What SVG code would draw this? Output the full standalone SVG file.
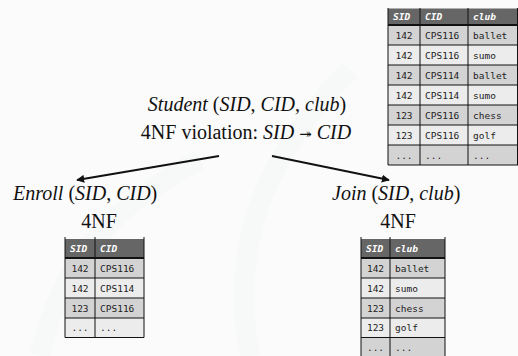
<svg xmlns="http://www.w3.org/2000/svg" width="518" height="356" viewBox="0 0 518 356">
<style>
.t{font-size:20px;fill:#111}
.i{font-style:italic}
.hd{fill:#666}
.odd{fill:#d3d3d3}
.even{fill:#ececec}
.g{stroke:#111;stroke-width:1;fill:none}
.thick{stroke:#111;stroke-width:2.2}
.c{font-size:9.5px;fill:#222}
.h{font-size:9.5px;fill:#fff;font-weight:bold;font-style:italic}
.edge{stroke:#111;stroke-width:2;fill:none}
</style>
<defs>
<marker id="ah" viewBox="0 0 10 10" refX="9" refY="5" markerWidth="4" markerHeight="4" orient="auto" markerUnits="strokeWidth">
<path d="M0,0 L10,5 L0,10 z" fill="#111"/>
</marker>
</defs>
<rect width="518" height="356" fill="#fbfbfb"/>
<g id="watermark" fill="none" stroke="#f7f8f8" stroke-width="20">
<path d="M250,356 C230,250 260,160 350,70"/>
<path d="M40,356 C60,260 120,200 200,160"/>
</g>
<g id="connectors">
<line class="edge" x1="219" y1="156" x2="77" y2="180" marker-end="url(#ah)"/>
<line class="edge" x1="272" y1="156" x2="389" y2="180" marker-end="url(#ah)"/>
</g>
<g id="student" font-family="Liberation Serif, Times New Roman, serif">
<text class="t" x="247" y="111" text-anchor="middle" font-size="20.4"><tspan class="i">Student</tspan> (<tspan class="i">SID</tspan>, <tspan class="i">CID</tspan>, <tspan class="i">club</tspan>)</text>
<text class="t" x="246" y="139" text-anchor="middle" font-size="19.5">4NF violation: <tspan class="i">SID</tspan> <tspan font-family="DejaVu Serif, DejaVu Sans, serif" font-size="15">↠</tspan> <tspan class="i">CID</tspan></text>
</g>
<g id="student-table" font-family="DejaVu Sans Mono, Liberation Mono, monospace">
<rect class="hd" x="388" y="8.5" width="130" height="16.5"/>
<rect class="odd" x="388" y="25" width="130" height="20"/>
<rect class="even" x="388" y="45" width="130" height="20"/>
<rect class="odd" x="388" y="65" width="130" height="20"/>
<rect class="even" x="388" y="85" width="130" height="20"/>
<rect class="odd" x="388" y="105" width="130" height="20"/>
<rect class="even" x="388" y="125" width="130" height="20"/>
<rect class="odd" x="388" y="145" width="130" height="20"/>
<path class="g" d="M388,8 V165 M420,8 V165 M468,8 V165 M517.5,8 V165 M388,45 H518 M388,65 H518 M388,85 H518 M388,105 H518 M388,125 H518 M388,145 H518 M388,165 H518"/>
<line class="thick" x1="388" y1="25" x2="518" y2="25"/>
<g class="h"><text x="393" y="20">SID</text><text x="425" y="20">CID</text><text x="473" y="20">club</text></g>
<g class="c">
<text x="404" y="39" text-anchor="middle">142</text><text x="425" y="39">CPS116</text><text x="473" y="39">ballet</text>
<text x="404" y="59" text-anchor="middle">142</text><text x="425" y="59">CPS116</text><text x="473" y="59">sumo</text>
<text x="404" y="79" text-anchor="middle">142</text><text x="425" y="79">CPS114</text><text x="473" y="79">ballet</text>
<text x="404" y="99" text-anchor="middle">142</text><text x="425" y="99">CPS114</text><text x="473" y="99">sumo</text>
<text x="404" y="119" text-anchor="middle">123</text><text x="425" y="119">CPS116</text><text x="473" y="119">chess</text>
<text x="404" y="139" text-anchor="middle">123</text><text x="425" y="139">CPS116</text><text x="473" y="139">golf</text>
<text x="404" y="159" text-anchor="middle">...</text><text x="425" y="159">...</text><text x="473" y="159">...</text>
</g>
</g>
<g id="enroll">
<g font-family="Liberation Serif, Times New Roman, serif">
<text class="t" x="13" y="200" font-size="20.5"><tspan class="i">Enroll</tspan> (<tspan class="i">SID</tspan>, <tspan class="i">CID</tspan>)</text>
<text class="t" x="99" y="228" text-anchor="middle" font-size="21.5">4NF</text>
</g>
<g font-family="DejaVu Sans Mono, Liberation Mono, monospace">
<rect class="hd" x="65" y="239" width="79" height="19"/>
<rect class="odd" x="65" y="258" width="79" height="20"/>
<rect class="even" x="65" y="278" width="79" height="20"/>
<rect class="odd" x="65" y="298" width="79" height="20"/>
<rect class="even" x="65" y="318" width="79" height="19.5"/>
<path class="g" d="M65,237 V337.5 M95,237 V337.5 M144,237 V337.5 M65,278 H144 M65,298 H144 M65,318 H144 M65,337.5 H144"/>
<line class="thick" x1="65" y1="258" x2="144" y2="258"/>
<g class="h"><text x="70" y="252">SID</text><text x="100" y="252">CID</text></g>
<g class="c">
<text x="80" y="272" text-anchor="middle">142</text><text x="100" y="272">CPS116</text>
<text x="80" y="292" text-anchor="middle">142</text><text x="100" y="292">CPS114</text>
<text x="80" y="312" text-anchor="middle">123</text><text x="100" y="312">CPS116</text>
<text x="80" y="331" text-anchor="middle">...</text><text x="100" y="331">...</text>
</g>
</g>
</g>
<g id="join">
<g font-family="Liberation Serif, Times New Roman, serif">
<text class="t" x="332" y="200"><tspan class="i">Join</tspan> (<tspan class="i">SID</tspan>, <tspan class="i">club</tspan>)</text>
<text class="t" x="398" y="228" text-anchor="middle" font-size="21.5">4NF</text>
</g>
<g font-family="DejaVu Sans Mono, Liberation Mono, monospace">
<rect class="hd" x="361" y="239" width="84" height="19"/>
<rect class="odd" x="361" y="258" width="84" height="20"/>
<rect class="even" x="361" y="278" width="84" height="20"/>
<rect class="odd" x="361" y="298" width="84" height="20"/>
<rect class="even" x="361" y="318" width="84" height="19.5"/>
<rect class="odd" x="361" y="337.5" width="84" height="19"/>
<path class="g" d="M361,237 V356 M390,237 V356 M445,237 V356 M361,278 H445 M361,298 H445 M361,318 H445 M361,337.5 H445"/>
<line class="thick" x1="361" y1="258" x2="445" y2="258"/>
<g class="h"><text x="366" y="252">SID</text><text x="395" y="252">club</text></g>
<g class="c">
<text x="375.5" y="272" text-anchor="middle">142</text><text x="395" y="272">ballet</text>
<text x="375.5" y="292" text-anchor="middle">142</text><text x="395" y="292">sumo</text>
<text x="375.5" y="312" text-anchor="middle">123</text><text x="395" y="312">chess</text>
<text x="375.5" y="331" text-anchor="middle">123</text><text x="395" y="331">golf</text>
<text x="375.5" y="351" text-anchor="middle">...</text><text x="395" y="351">...</text>
</g>
</g>
</g>
</svg>
